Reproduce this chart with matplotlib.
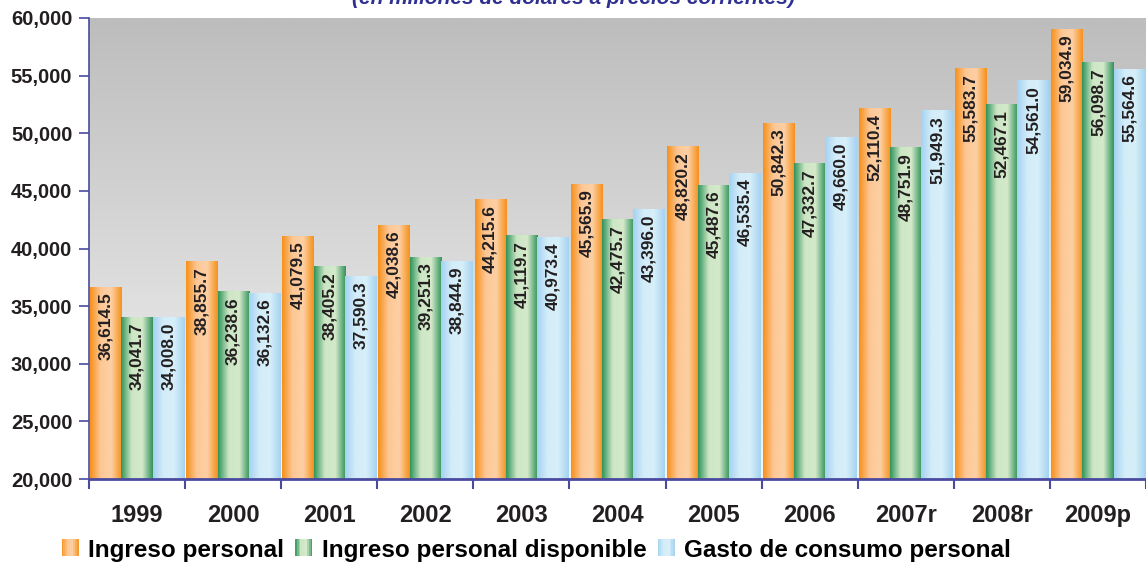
import numpy as np
import matplotlib
matplotlib.use("Agg")
import matplotlib.pyplot as plt
from matplotlib import font_manager
from matplotlib.colors import LinearSegmentedColormap
from matplotlib.legend_handler import HandlerBase
from matplotlib.patches import Rectangle

plt.rcParams['font.family'] = ['Liberation Sans', 'DejaVu Sans']
plt.rcParams['font.weight'] = 'bold'

years = ['1999', '2000', '2001', '2002', '2003', '2004', '2005', '2006', '2007r', '2008r', '2009p']
ingreso = [36614.5, 38855.7, 41079.5, 42038.6, 44215.6, 45565.9, 48820.2, 50842.3, 52110.4, 55583.7, 59034.9]
disponible = [34041.7, 36238.6, 38405.2, 39251.3, 41119.7, 42475.7, 45487.6, 47332.7, 48751.9, 52467.1, 56098.7]
gasto = [34008.0, 36132.6, 37590.3, 38844.9, 40973.4, 43396.0, 46535.4, 49660.0, 51949.3, 54561.0, 55564.6]
series_names = ['Ingreso personal', 'Ingreso personal disponible', 'Gasto de consumo personal']

# gradient stops: edge, centre, edge
grads = [
    ['#f6901a', '#fdc796', '#fdd0a4', '#f6901a'],
    ['#31935a', '#cce6c4', '#d4eacb', '#31935a'],
    ['#a4d2f0', '#d3edf9', '#d6eff9', '#a4d2f0'],
]
cmaps = [LinearSegmentedColormap.from_list('g%d' % i, g) for i, g in enumerate(grads)]

# narrow font for the values inside the bars, if there is one
names = {f.name for f in font_manager.fontManager.ttflist}
if 'Liberation Sans Narrow' in names:
    val_font, val_size = ['Liberation Sans Narrow', 'DejaVu Sans'], 15.5
else:
    val_font, val_size = ['Liberation Sans', 'DejaVu Sans'], 12.5

axis_col = '#4a4aa0'
ymin, ymax = 20000, 60000

fig = plt.figure(figsize=(11.46, 5.64), dpi=100)
ax = fig.add_axes([89 / 1146, 1 - 479 / 564, (1146 - 89) / 1146, (479 - 18) / 564])

# background vertical gradient
bg = LinearSegmentedColormap.from_list('bg', ['#f4f4f4', '#bdbdbd'])
ax.imshow(np.linspace(0, 1, 256).reshape(-1, 1), cmap=bg, origin='lower', aspect='auto',
          extent=[0, len(years), ymin, ymax], zorder=0)

x = np.arange(len(years))
bw = 0.325
offsets = [-bw, 0, bw]
hgrad = np.linspace(0, 1, 128).reshape(1, -1)
for vals, off, cm in zip([ingreso, disponible, gasto], offsets, cmaps):
    for xi, v in zip(x + 0.5 + off, vals):
        x0 = xi - bw / 2
        ax.imshow(hgrad, cmap=cm, aspect='auto', extent=[x0, x0 + bw, ymin, v], zorder=2)
        ax.text(xi, v - 450, f'{v:,.1f}', rotation=90, ha='center', va='top',
                fontsize=val_size, fontweight='bold', family=val_font, color='#231f20', zorder=3)

ax.set_xlim(0, len(years))
ax.set_ylim(ymin, ymax)
ax.set_yticks(np.arange(ymin, ymax + 1, 5000))
ax.set_yticklabels([f'{t:,}' for t in range(ymin, ymax + 1, 5000)])
ax.set_xticks(np.arange(0, len(years) + 1))
ax.set_xticklabels([])
ax.set_xticks(x + 0.5, minor=True)
ax.set_xticklabels(years, minor=True)
ax.tick_params(axis='x', which='minor', length=0, pad=18, labelsize=17)
ax.tick_params(axis='x', which='major', length=7, width=1.5, color=axis_col)
ax.tick_params(axis='y', length=7, width=1.2, color=axis_col, labelsize=14.5, pad=5)
for lab in ax.get_yticklabels() + ax.get_xticklabels(minor=True):
    lab.set_fontweight('bold')
    lab.set_color('#231f20')
for s in ['top', 'right']:
    ax.spines[s].set_visible(False)
ax.spines['left'].set_color(axis_col)
ax.spines['bottom'].set_color(axis_col)
ax.spines['bottom'].set_linewidth(2)
ax.spines['left'].set_linewidth(1.2)
ax.spines['bottom'].set_zorder(4)


class GradHandler(HandlerBase):
    def __init__(self, cm):
        super().__init__()
        self.cm = cm

    def create_artists(self, legend, orig_handle, xdescent, ydescent, width, height, fontsize, trans):
        n = 10
        side = height * 1.05
        x0 = -xdescent + width - side
        arts = []
        for k in range(n):
            arts.append(Rectangle((x0 + k * side / n, -ydescent), side / n, side,
                                  facecolor=self.cm((k + 0.5) / n), edgecolor='none', transform=trans))
        return arts


handles = [Rectangle((0, 0), 1, 1) for _ in range(3)]
fig.legend(handles, series_names, loc='center', bbox_to_anchor=(537 / 1146, 1 - 550 / 564),
           ncol=3, frameon=False, handlelength=0.65, handleheight=0.65,
           handletextpad=0.4, columnspacing=0.5,
           handler_map={h: GradHandler(cm) for h, cm in zip(handles, cmaps)},
           prop={'weight': 'bold', 'size': 17.5})

fig.text(573 / 1146, 1 - (-1) / 564, '(en millones de dólares a precios corrientes)',
         ha='center', va='center', fontsize=15, fontweight='bold', fontstyle='italic', color='#2e3192')

fig.savefig('out.png', dpi=100)
